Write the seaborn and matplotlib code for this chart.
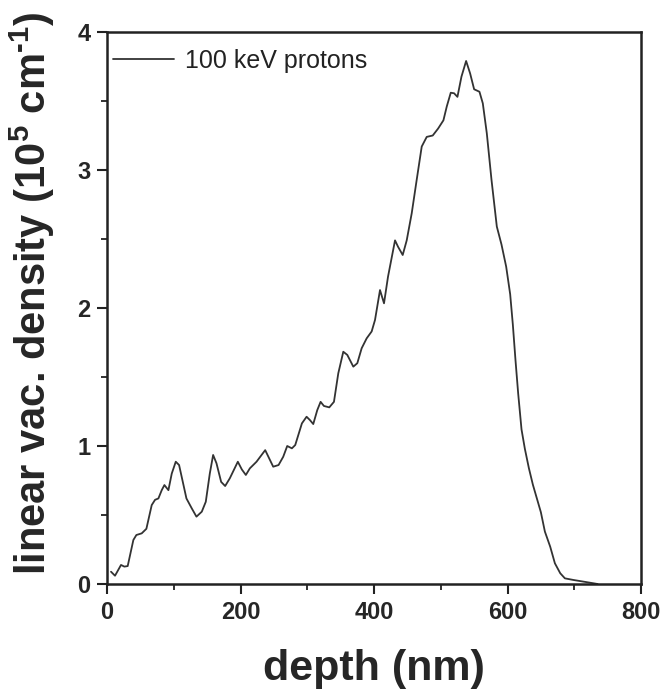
import numpy as np
import pandas as pd
import matplotlib
matplotlib.use("Agg")
import matplotlib.pyplot as plt
from matplotlib.ticker import MultipleLocator
import seaborn as sns

depth_nm = [6, 12, 21, 26, 31, 39.5, 44, 52, 59, 67, 72, 77, 82, 86, 92, 97, 103, 108,
            114, 119, 127, 134, 142, 148, 154, 159, 164, 171, 177, 184, 196, 202, 208,
            214, 224, 237, 243, 249, 257, 264, 270, 277, 282, 292, 299, 304, 309, 315,
            320, 325, 333, 340, 346.5, 354, 360, 369, 375, 381.5, 389, 396.5, 401.5,
            409, 415, 421, 431.5, 436, 443, 449, 456.5, 464, 471.5, 479, 488, 496, 504,
            509, 515, 520, 525, 531, 538, 544, 550, 558, 563, 569, 576, 584, 591, 598,
            604, 608, 612, 616, 621, 626, 632, 638, 644, 650, 656, 664, 671, 679, 686,
            699, 714, 729, 735]
vac_density = [0.089, 0.06, 0.138, 0.126, 0.13, 0.319, 0.355, 0.367, 0.40, 0.572, 0.61,
               0.62, 0.68, 0.717, 0.68, 0.80, 0.886, 0.862, 0.73, 0.62, 0.548, 0.488,
               0.524, 0.596, 0.80, 0.935, 0.875, 0.74, 0.71, 0.766, 0.886, 0.83, 0.79,
               0.838, 0.886, 0.97, 0.91, 0.85, 0.862, 0.922, 1.0, 0.983, 1.007, 1.164,
               1.212, 1.188, 1.159, 1.26, 1.32, 1.29, 1.28, 1.32, 1.527, 1.683, 1.66,
               1.575, 1.60, 1.708, 1.78, 1.83, 1.913, 2.13, 2.034, 2.227, 2.49, 2.444,
               2.384, 2.49, 2.686, 2.93, 3.17, 3.24, 3.25, 3.30, 3.36, 3.46, 3.56, 3.556,
               3.53, 3.676, 3.79, 3.70, 3.585, 3.567, 3.483, 3.266, 2.93, 2.59, 2.46, 2.30,
               2.10, 1.88, 1.62, 1.38, 1.12, 0.98, 0.84, 0.72, 0.62, 0.52, 0.38, 0.27,
               0.15, 0.078, 0.041, 0.029, 0.017, 0.005, 0.0]
series_label = "100 keV protons"
x_ticks = [0, 200, 400, 600, 800]
y_ticks = [0, 1, 2, 3, 4]

sns.set_style("ticks")
plt.rcParams["font.family"] = ["Liberation Sans", "DejaVu Sans"]
plt.rcParams["mathtext.fontset"] = "custom"
plt.rcParams["mathtext.rm"] = "Liberation Sans:bold"
plt.rcParams["mathtext.bf"] = "Liberation Sans:bold"
plt.rcParams["mathtext.default"] = "bf"

fig = plt.figure(figsize=(6.62, 6.91), dpi=100)
ax = fig.add_axes([107/662, 1-584/691, 534/662, 552/691])

df = pd.DataFrame({"depth": depth_nm, "density": vac_density})
sns.lineplot(data=df, x="depth", y="density", ax=ax, color="#333333", linewidth=1.3,
             label=series_label, sort=False)

ax.set_xlim(0, 800)
ax.set_ylim(0, 4)
ax.set_xticks(x_ticks)
ax.set_yticks(y_ticks)
ax.xaxis.set_minor_locator(MultipleLocator(100))
ax.yaxis.set_minor_locator(MultipleLocator(0.5))
ax.tick_params(which="major", direction="out", length=7, width=1.5, labelsize=17, pad=5,
               color="#222222")
ax.tick_params(which="minor", direction="out", length=4, width=1.3, color="#222222")
for lab in ax.get_xticklabels() + ax.get_yticklabels():
    lab.set_fontweight("bold")
for s in ax.spines.values():
    s.set_linewidth(1.8)
    s.set_color("#222222")

ax.set_xlabel("depth (nm)", fontsize=31, fontweight="bold")
ax.set_ylabel(r"linear vac. density (10$^{5}$ cm$^{\text{-}1}$)", fontsize=30,
              fontweight="bold")
ax.xaxis.set_label_coords(0.5, -0.118)
ax.yaxis.set_label_coords(-0.094, 0.527)

leg = ax.legend(loc="center left", bbox_to_anchor=(0.0112, 0.9475), frameon=False,
                fontsize=18, handlelength=2.45, handletextpad=0.42, borderpad=0,
                borderaxespad=0)
for t in leg.get_texts():
    t.set_color("#222222")

fig.savefig("out.png", dpi=100)
